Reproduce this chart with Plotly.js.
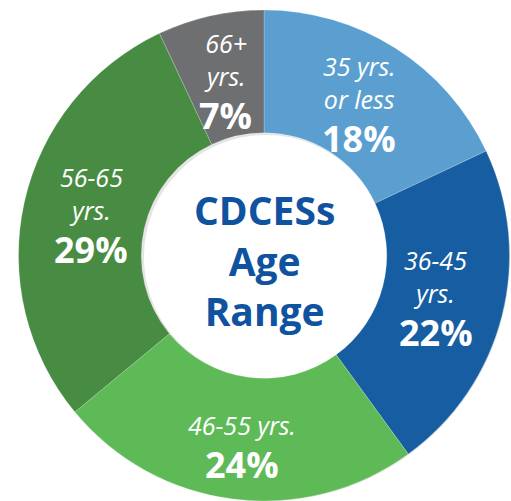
<!DOCTYPE html>
<html>
<head>
<meta charset="utf-8">
<script src="https://cdn.plot.ly/plotly-3.0.1.min.js"></script>
<style>html,body{margin:0;padding:0;background:#fff;}#chart{width:511px;height:501px;}</style>
</head>
<body>
<div id="chart"></div>
<script>
// Data
const categories = ["35 yrs. or less", "36-45 yrs.", "46-55 yrs.", "56-65 yrs.", "66+ yrs."];
const sliceLabels = ["35 yrs.<br>or less", "36-45<br>yrs.", "46-55 yrs.", "56-65<br>yrs.", "66+<br>yrs."];
const values = [18, 22, 24, 29, 7];
const colors = ["#5B9FD1", "#175DA2", "#5EBA56", "#478C42", "#6E6F71"];
const centerTitle = "CDCESs<br>Age<br>Range";

const W = 511, H = 501;
const cx = 264, cy = 256, R = 246, holeFrac = 0.5;

const domX = [(cx - R) / W, (cx + R) / W];
const domY = [1 - (cy + R) / H, 1 - (cy - R) / H];

const shadowDomX = [(cx - R + 3) / W, (cx + R + 3) / W];
const shadowDomY = [Math.max(0, 1 - (cy + R + 3) / H), 1 - (cy - R + 3) / H];

const traces = [
  {
    type: "pie", values: [1], labels: ["shadow"], sort: false,
    domain: {x: shadowDomX, y: shadowDomY},
    hole: holeFrac, marker: {colors: ["rgba(0,0,0,0.10)"]},
    textinfo: "none", hoverinfo: "skip", showlegend: false
  },
  {
    type: "pie", values: values, labels: categories, sort: false,
    direction: "clockwise", rotation: 0,
    domain: {x: domX, y: domY},
    hole: holeFrac,
    marker: {colors: colors, line: {color: "rgba(255,255,255,0.35)", width: 0.6}},
    textinfo: "none", hoverinfo: "none", showlegend: false
  }
];

// Label annotations placed at mid-angle of each slice (computed from the data)
const total = values.reduce((a, b) => a + b, 0);
const annotations = [];
let cum = 0;
const rText = 0.72 * R;
values.forEach((v, i) => {
  const mid = (cum + v / 2) / total * 2 * Math.PI;
  cum += v;
  const px = cx + rText * Math.sin(mid);
  const py = cy - rText * Math.cos(mid);
  annotations.push({
    xref: "paper", yref: "paper", x: px / W, y: 1 - py / H,
    xanchor: "center", yanchor: "bottom", yshift: -12, showarrow: false,
    text: sliceLabels[i],
    font: {family: "Open Sans, sans-serif", size: 25, color: "#ffffff", style: "italic", weight: 400}
  });
  annotations.push({
    xref: "paper", yref: "paper", x: px / W, y: 1 - py / H,
    xanchor: "center", yanchor: "top", yshift: -6, showarrow: false,
    text: v + "%",
    font: {family: "Open Sans, sans-serif", size: 36, color: "#ffffff", weight: 700}
  });
});
annotations.push({
  xref: "paper", yref: "paper", x: cx / W, y: 1 - (cy + 4) / H,
  xanchor: "center", yanchor: "middle", showarrow: false,
  text: centerTitle,
  font: {family: "Open Sans, sans-serif", size: 39, color: "#0E52A0", weight: 700}
});

const layout = {
  width: W, height: H,
  margin: {l: 0, r: 0, t: 0, b: 0},
  paper_bgcolor: "#ffffff",
  showlegend: false,
  annotations: annotations
};

Plotly.newPlot("chart", traces, layout, {displayModeBar: false, staticPlot: true});
</script>
</body>
</html>
